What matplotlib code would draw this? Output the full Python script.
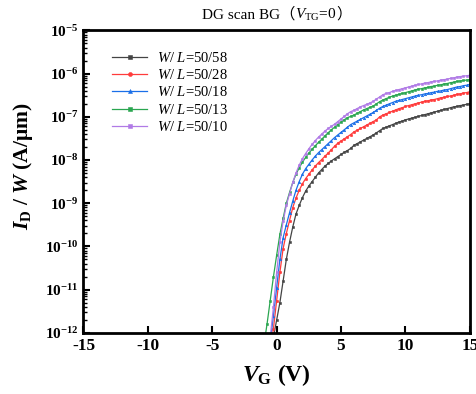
import numpy as np
import matplotlib
matplotlib.use("Agg")
import matplotlib.pyplot as plt
from matplotlib.ticker import FixedLocator, FuncFormatter, LogLocator, NullFormatter
from matplotlib.offsetbox import TextArea, HPacker, AnchoredOffsetbox

plt.rcParams['font.family'] = ['Liberation Serif', 'Noto Sans CJK SC', 'DejaVu Sans']
plt.rcParams['mathtext.fontset'] = 'custom'
plt.rcParams['mathtext.rm'] = 'Liberation Serif'
plt.rcParams['mathtext.it'] = 'Liberation Serif:italic'
plt.rcParams['mathtext.bf'] = 'Liberation Serif:bold'
plt.rcParams['mathtext.bfit'] = 'Liberation Serif:italic:bold'

# Gate voltage (V), 0.25 V step from -1 to 15
vg = [-1.0, -0.75, -0.5, -0.25, 0.0, 0.25, 0.5, 0.75, 1.0, 1.25, 1.5, 1.75, 2.0,
      2.25, 2.5, 2.75, 3.0, 3.25, 3.5, 3.75, 4.0, 4.25, 4.5, 4.75, 5.0, 5.25, 5.5,
      5.75, 6.0, 6.25, 6.5, 6.75, 7.0, 7.25, 7.5, 7.75, 8.0, 8.25, 8.5, 8.75, 9.0,
      9.25, 9.5, 9.75, 10.0, 10.25, 10.5, 10.75, 11.0, 11.25, 11.5, 11.75, 12.0,
      12.25, 12.5, 12.75, 13.0, 13.25, 13.5, 13.75, 14.0, 14.25, 14.5, 14.75, 15.0]

# log10(I_D/W)
log_wl58 = [-13.5, -13.0, -12.6, -12.1, -11.7, -11.3, -10.8, -10.3, -9.9, -9.55, -9.25,
            -9.05, -8.87, -8.72, -8.6, -8.5, -8.4, -8.3, -8.22, -8.14, -8.08, -8.02,
            -7.97, -7.92, -7.87, -7.82, -7.78, -7.73, -7.66, -7.62, -7.58, -7.54, -7.5,
            -7.46, -7.42, -7.37, -7.32, -7.27, -7.24, -7.21, -7.18, -7.15, -7.12, -7.1,
            -7.07, -7.05, -7.03, -7.01, -6.99, -6.97, -6.95, -6.93, -6.91, -6.89, -6.87,
            -6.85, -6.83, -6.81, -6.79, -6.77, -6.76, -6.74, -6.73, -6.71, -6.70]
log_wl28 = [-13.2, -12.8, -12.4, -11.9, -11.25, -10.6, -10.05, -9.7, -9.4, -9.1, -8.88,
            -8.7, -8.55, -8.43, -8.33, -8.23, -8.14, -8.06, -7.99, -7.91, -7.84, -7.76,
            -7.68, -7.61, -7.56, -7.51, -7.46, -7.41, -7.35, -7.31, -7.27, -7.23, -7.19,
            -7.15, -7.11, -7.07, -7.0, -6.96, -6.93, -6.9, -6.87, -6.84, -6.81, -6.79,
            -6.76, -6.74, -6.72, -6.7, -6.68, -6.66, -6.64, -6.63, -6.61, -6.6, -6.58,
            -6.56, -6.55, -6.53, -6.52, -6.5, -6.48, -6.47, -6.45, -6.44, -6.42]
log_wl18 = [-13.0, -12.6, -12.2, -11.6, -10.95, -10.3, -9.8, -9.5, -9.22, -8.95, -8.7,
            -8.5, -8.33, -8.2, -8.1, -8.0, -7.91, -7.83, -7.76, -7.69, -7.62, -7.55,
            -7.48, -7.42, -7.36, -7.3, -7.24, -7.18, -7.14, -7.1, -7.06, -7.02, -6.98,
            -6.94, -6.9, -6.85, -6.8, -6.76, -6.73, -6.7, -6.67, -6.64, -6.62, -6.6,
            -6.58, -6.56, -6.54, -6.52, -6.5, -6.49, -6.47, -6.46, -6.44, -6.43, -6.41,
            -6.4, -6.38, -6.37, -6.35, -6.33, -6.31, -6.3, -6.28, -6.27, -6.25]
log_wl13 = [-12.3, -11.8, -11.25, -10.7, -10.2, -9.72, -9.35, -9.0, -8.75, -8.52, -8.33,
            -8.18, -8.05, -7.94, -7.84, -7.75, -7.67, -7.59, -7.52, -7.44, -7.37, -7.3,
            -7.24, -7.18, -7.12, -7.07, -7.02, -6.99, -6.96, -6.92, -6.88, -6.84, -6.81,
            -6.78, -6.75, -6.7, -6.65, -6.61, -6.58, -6.55, -6.52, -6.5, -6.48, -6.46,
            -6.44, -6.42, -6.4, -6.38, -6.36, -6.35, -6.33, -6.32, -6.3, -6.29, -6.27,
            -6.26, -6.24, -6.23, -6.21, -6.2, -6.18, -6.17, -6.16, -6.15, -6.14]
log_wl10 = [-13.1, -12.6, -12.1, -11.4, -10.6, -9.9, -9.42, -9.05, -8.78, -8.52, -8.3,
            -8.12, -7.97, -7.85, -7.74, -7.64, -7.55, -7.47, -7.4, -7.33, -7.27, -7.22,
            -7.17, -7.11, -7.05, -6.99, -6.93, -6.88, -6.85, -6.81, -6.77, -6.74, -6.71,
            -6.68, -6.64, -6.59, -6.54, -6.49, -6.46, -6.44, -6.41, -6.39, -6.37, -6.35,
            -6.33, -6.31, -6.29, -6.27, -6.25, -6.24, -6.22, -6.21, -6.19, -6.18, -6.17,
            -6.15, -6.14, -6.13, -6.11, -6.1, -6.08, -6.07, -6.06, -6.05, -6.04]

labels = ['50/58', '50/28', '50/18', '50/13', '50/10']
series = [log_wl58, log_wl28, log_wl18, log_wl13, log_wl10]
colors = ['#444444', '#ff3b3b', '#1a6fe8', '#2aa650', '#b07ae6']
markers = ['s', 'o', '^', 's', 's']

xticks = [-15, -10, -5, 0, 5, 10, 15]
yticks = [1e-12, 1e-11, 1e-10, 1e-9, 1e-8, 1e-7, 1e-6, 1e-5]

fig = plt.figure(figsize=(4.77, 3.94), dpi=100)
ax = fig.add_axes([0.175, 0.155, 0.81, 0.768])

x = np.array(vg)
for lab, s, c, m in zip(labels, series, colors, markers):
    ax.plot(x, 10 ** np.array(s), color=c, marker=m, markersize=1.8, lw=0.9,
            markeredgewidth=0.4, label=r'$\mathit{W}$/ $\mathit{L}$=' + lab)

ax.set_yscale('log')
ax.set_xlim(-15, 15)
ax.set_ylim(1e-12, 1e-5)
ax.xaxis.set_major_locator(FixedLocator(xticks))
ax.yaxis.set_major_locator(FixedLocator(yticks))
ax.yaxis.set_minor_locator(LogLocator(base=10, subs=np.arange(2, 10)))
ax.yaxis.set_minor_formatter(NullFormatter())
ax.xaxis.set_major_formatter(FuncFormatter(lambda v, p: '%d' % v))
ax.yaxis.set_major_formatter(FuncFormatter(
    lambda v, p: r'$\mathbf{10^{%d}}$' % int(round(np.log10(v)))))

ax.tick_params(axis='both', which='major', direction='in', length=5, width=1.5,
               top=False, right=False)
ax.tick_params(axis='x', labelsize=12.5)
ax.tick_params(axis='y', labelsize=11)
ax.tick_params(axis='y', which='minor', direction='in', length=3, width=1.0,
               right=False)
for t in ax.get_xticklabels():
    t.set_fontweight('bold')
for sp in ax.spines.values():
    sp.set_linewidth(2)

ax.set_xlabel(r'$\mathbfit{V}_{\mathbf{G}}\ \mathbf{(V)}$', fontsize=17, labelpad=6)
ax.set_ylabel(r'$\mathbfit{I}_{\mathbf{D}}\ \mathbf{/}\ \mathbfit{W}\ \mathbf{(A/\mu m)}$',
              fontsize=15.5)
ax.yaxis.set_label_coords(-0.125, 0.55)

# Title built from pieces so the full-width brackets can use a CJK font
tprops = dict(fontsize=11)
parts = [TextArea('DG scan BG（', textprops=tprops),
         TextArea(r'$\mathit{V}_{\mathrm{TG}}$=0', textprops=tprops),
         TextArea('）', textprops=tprops)]
box = HPacker(children=parts, align='baseline', pad=0, sep=0)
anch = AnchoredOffsetbox(loc='lower center', child=box, pad=0, frameon=False,
                         bbox_to_anchor=(0.5, 1.025), bbox_transform=ax.transAxes,
                         borderpad=0)
ax.add_artist(anch)

leg = ax.legend(loc='upper left', bbox_to_anchor=(0.04, 0.975), frameon=False,
                fontsize=10.5, handlelength=2.4, labelspacing=0.22, handletextpad=0.7,
                numpoints=1, markerscale=1.6)

fig.savefig('out.png', dpi=100)
